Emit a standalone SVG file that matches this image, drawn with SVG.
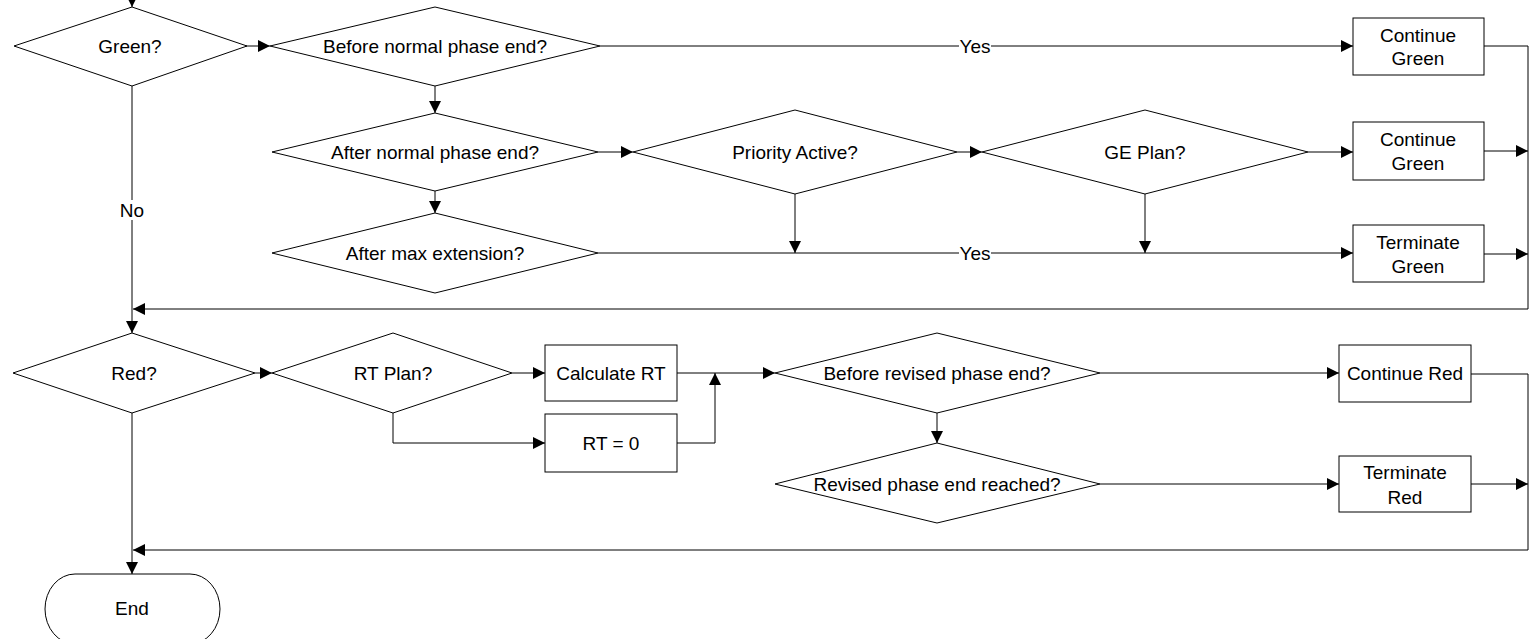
<svg xmlns="http://www.w3.org/2000/svg" width="1536" height="639" viewBox="0 0 1536 639">
<defs>
<marker id="ah" viewBox="0 0 10 10" refX="10" refY="5" markerWidth="12" markerHeight="12" markerUnits="userSpaceOnUse" orient="auto">
<path d="M0,0 L10,5 L0,10 z" fill="#000"/>
</marker>
<style>
.n{fill:#fff;stroke:#000;stroke-width:1}
.c{fill:none;stroke:#000;stroke-width:1}
.a{marker-end:url(#ah)}
text{font-family:"Liberation Sans",Arial,sans-serif;font-size:19px;fill:#000;text-anchor:middle;dominant-baseline:central}
.lb{fill:#fff}
</style>
</defs>
<rect width="1536" height="639" fill="#fff"/>
<g id="connectors">
<path class="c a" d="M132,0 V7"/>
<path class="c a" d="M245,46 H270"/>
<path class="c a" d="M600,46 H1353"/>
<path class="c a" d="M435,86 V113"/>
<path class="c" d="M1484,46 H1528 V309"/>
<path class="c a" d="M1528,309 H133"/>
<path class="c a" d="M132,86 V333"/>
<path class="c a" d="M598,152 H633"/>
<path class="c a" d="M957,152 H982"/>
<path class="c a" d="M1308,152 H1353"/>
<path class="c a" d="M1484,151 H1528"/>
<path class="c a" d="M435,191 V213"/>
<path class="c a" d="M795,194 V253"/>
<path class="c a" d="M1145,194 V253"/>
<path class="c a" d="M598,253 H1353"/>
<path class="c a" d="M1484,254 H1528"/>
<path class="c a" d="M255,373 H272"/>
<path class="c a" d="M512,373 H545"/>
<path class="c a" d="M393,413 V443 H545"/>
<path class="c a" d="M677,443 H715 V373"/>
<path class="c a" d="M677,373 H775"/>
<path class="c a" d="M937,413 V443"/>
<path class="c a" d="M1100,373 H1339"/>
<path class="c a" d="M1100,484 H1339"/>
<path class="c" d="M1471,374 H1528 V550"/>
<path class="c a" d="M1471,484 H1528"/>
<path class="c a" d="M1528,550 H133"/>
<path class="c a" d="M132,413 V574"/>
<rect class="lb" x="959" y="36" width="32" height="20"/>
<text x="975" y="46">Yes</text>
<rect class="lb" x="959" y="243" width="32" height="20"/>
<text x="975" y="253">Yes</text>
<rect class="lb" x="117" y="200" width="30" height="20"/>
<text x="132" y="210">No</text>
</g>
<g id="green"><polygon class="n" points="14,46 132,7 247,46 132,86"/><text x="130" y="46">Green?</text></g>
<g id="beforeNormal"><polygon class="n" points="270,46 435,7 600,46 435,86"/><text x="435" y="46">Before normal phase end?</text></g>
<g id="continueGreen1"><rect class="n" x="1353" y="18" width="131" height="57"/><text x="1418" y="35">Continue</text><text x="1418" y="58">Green</text></g>
<g id="afterNormal"><polygon class="n" points="272,152 435,113 598,152 435,191"/><text x="435" y="152">After normal phase end?</text></g>
<g id="priority"><polygon class="n" points="633,152 795,110 957,152 795,194"/><text x="795" y="152">Priority Active?</text></g>
<g id="gePlan"><polygon class="n" points="982,152 1145,110 1308,152 1145,194"/><text x="1145" y="152">GE Plan?</text></g>
<g id="continueGreen2"><rect class="n" x="1353" y="122" width="131" height="58"/><text x="1418" y="139">Continue</text><text x="1418" y="163">Green</text></g>
<g id="afterMax"><polygon class="n" points="272,253 435,213 598,253 435,293"/><text x="435" y="253">After max extension?</text></g>
<g id="terminateGreen"><rect class="n" x="1353" y="225" width="131" height="57"/><text x="1418" y="242">Terminate</text><text x="1418" y="266">Green</text></g>
<g id="red"><polygon class="n" points="13,373 132,333 255,373 132,413"/><text x="134" y="373">Red?</text></g>
<g id="rtPlan"><polygon class="n" points="272,373 393,333 512,373 393,413"/><text x="393" y="373">RT Plan?</text></g>
<g id="calcRT"><rect class="n" x="545" y="345" width="132" height="56"/><text x="611" y="373">Calculate RT</text></g>
<g id="rt0"><rect class="n" x="545" y="414" width="132" height="58"/><text x="611" y="443">RT = 0</text></g>
<g id="beforeRevised"><polygon class="n" points="775,373 937,333 1100,373 937,413"/><text x="937" y="373">Before revised phase end?</text></g>
<g id="revisedReached"><polygon class="n" points="775,484 937,443 1100,484 937,523"/><text x="937" y="484">Revised phase end reached?</text></g>
<g id="continueRed"><rect class="n" x="1339" y="345" width="132" height="57"/><text x="1405" y="373">Continue Red</text></g>
<g id="terminateRed"><rect class="n" x="1339" y="456" width="132" height="56"/><text x="1405" y="472">Terminate</text><text x="1405" y="497">Red</text></g>
<g id="end"><rect class="n" x="45" y="574" width="175" height="70" rx="30" ry="35"/><text x="132" y="608">End</text></g>
</svg>
